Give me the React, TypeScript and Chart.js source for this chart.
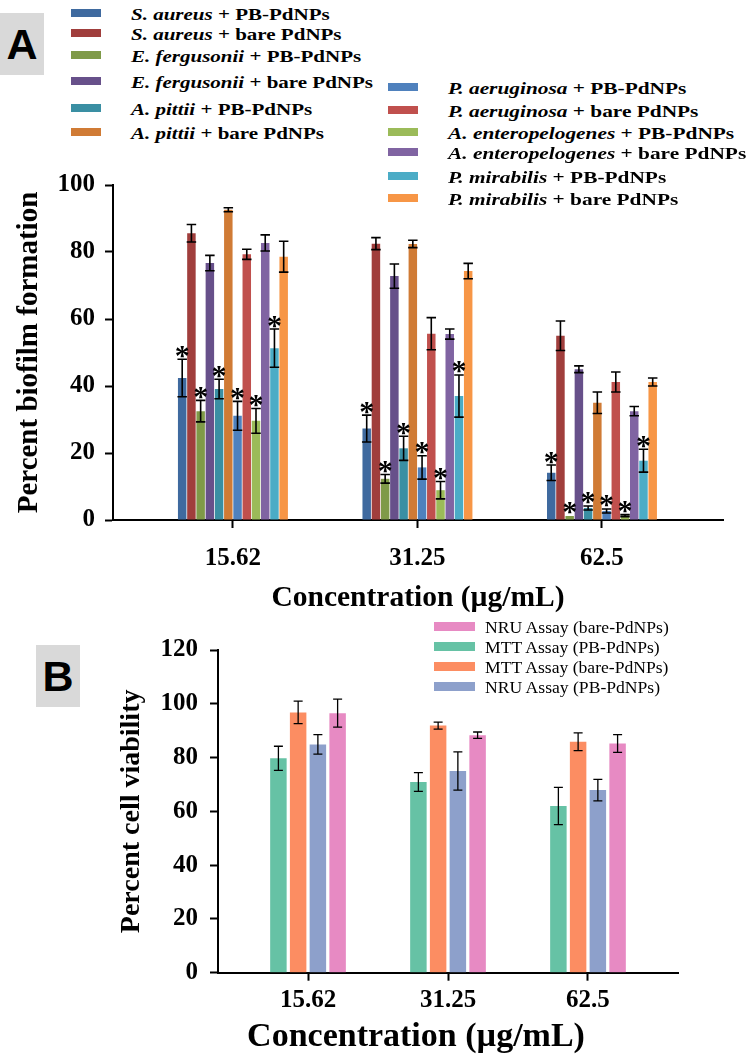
import React, { useEffect, useRef } from "react";
import { Chart, registerables } from "chart.js";

Chart.register(...registerables);

const SERIF = '"Liberation Serif", "Times New Roman", Times, serif';
const SANS = '"Liberation Sans", Arial, Helvetica, sans-serif';

// ---------- Panel A data ----------
const concentrations = ["15.62", "31.25", "62.5"];
const biofilmTicks = [0, 20, 40, 60, 80, 100];

const sAureusPB = [42.4, 27.3, 14.1];
const sAureusPBErr = [5.6, 4.0, 2.3];
const sAureusBare = [85.6, 82.5, 55.0];
const sAureusBareErr = [2.6, 1.8, 4.4];
const eFergusoniiPB = [32.5, 12.3, 1.2];
const eFergusoniiPBErr = [3.2, 1.3, 0];
const eFergusoniiBare = [76.7, 72.8, 45.0];
const eFergusoniiBareErr = [2.3, 3.6, 1.0];
const aPittiiPB = [39.1, 21.4, 3.6];
const aPittiiPBErr = [2.9, 3.6, 0.6];
const aPittiiBare = [92.6, 82.4, 35.0];
const aPittiiBareErr = [0.6, 1.1, 3.2];
const pAeruginosaPB = [31.1, 15.7, 2.7];
const pAeruginosaPBErr = [4.3, 3.5, 0.6];
const pAeruginosaBare = [79.3, 55.6, 41.2];
const pAeruginosaBareErr = [1.5, 4.8, 3.0];
const aEnteroPB = [29.6, 8.9, 1.3];
const aEnteroPBErr = [3.7, 2.6, 0.3];
const aEnteroBare = [82.7, 55.5, 32.5];
const aEnteroBareErr = [2.4, 1.5, 1.4];
const pMirabilisPB = [51.3, 37.0, 17.7];
const pMirabilisPBErr = [5.7, 6.3, 3.4];
const pMirabilisBare = [78.6, 74.3, 41.2];
const pMirabilisBareErr = [4.6, 2.3, 1.2];

const seriesA = [
  { species: "S. aureus", suffix: " + PB-PdNPs", values: sAureusPB, err: sAureusPBErr, color: "#3f6a9f", star: true },
  { species: "S. aureus", suffix: " + bare PdNPs", values: sAureusBare, err: sAureusBareErr, color: "#a03e3c", star: false },
  { species: "E. fergusonii", suffix: " + PB-PdNPs", values: eFergusoniiPB, err: eFergusoniiPBErr, color: "#7f9a48", star: true },
  { species: "E. fergusonii", suffix: " + bare PdNPs", values: eFergusoniiBare, err: eFergusoniiBareErr, color: "#67508a", star: false },
  { species: "A. pittii", suffix: " + PB-PdNPs", values: aPittiiPB, err: aPittiiPBErr, color: "#3a8fa3", star: true },
  { species: "A. pittii", suffix: " + bare PdNPs", values: aPittiiBare, err: aPittiiBareErr, color: "#d07b35", star: false },
  { species: "P. aeruginosa", suffix: " + PB-PdNPs", values: pAeruginosaPB, err: pAeruginosaPBErr, color: "#4f81bd", star: true },
  { species: "P. aeruginosa", suffix: " + bare PdNPs", values: pAeruginosaBare, err: pAeruginosaBareErr, color: "#c0504d", star: false },
  { species: "A. enteropelogenes", suffix: " + PB-PdNPs", values: aEnteroPB, err: aEnteroPBErr, color: "#9bbb59", star: true },
  { species: "A. enteropelogenes", suffix: " + bare PdNPs", values: aEnteroBare, err: aEnteroBareErr, color: "#8064a2", star: false },
  { species: "P. mirabilis", suffix: " + PB-PdNPs", values: pMirabilisPB, err: pMirabilisPBErr, color: "#4bacc6", star: true },
  { species: "P. mirabilis", suffix: " + bare PdNPs", values: pMirabilisBare, err: pMirabilisBareErr, color: "#f79646", star: false },
];

// ---------- Panel B data ----------
const viabilityTicks = [0, 20, 40, 60, 80, 100, 120];
const mttPB = [79.7, 70.9, 62.0];
const mttPBErr = [4.5, 3.5, 6.9];
const mttBare = [96.8, 91.9, 85.9];
const mttBareErr = [4.2, 1.3, 3.3];
const nruPB = [84.9, 75.0, 67.9];
const nruPBErr = [3.6, 7.1, 4.0];
const nruBare = [96.5, 88.3, 85.2];
const nruBareErr = [5.2, 1.2, 3.3];

const seriesB = [
  { label: "MTT Assay (PB-PdNPs)", values: mttPB, err: mttPBErr, color: "#66c2a5" },
  { label: "MTT Assay (bare-PdNPs)", values: mttBare, err: mttBareErr, color: "#fc8d62" },
  { label: "NRU Assay (PB-PdNPs)", values: nruPB, err: nruPBErr, color: "#8da0cb" },
  { label: "NRU Assay (bare-PdNPs)", values: nruBare, err: nruBareErr, color: "#e78ac3" },
];
const legendOrderB = [3, 0, 1, 2];

function errorBarPlugin(errors: number[][], stars: boolean[], lineWidth: number, capWidth: number | null) {
  return {
    id: "errorBars",
    afterDatasetsDraw(chart: any) {
      const ctx = chart.ctx;
      const yScale = chart.scales.y;
      ctx.save();
      chart.data.datasets.forEach((ds: any, di: number) => {
        const meta = chart.getDatasetMeta(di);
        meta.data.forEach((el: any, i: number) => {
          const v = ds.data[i].y;
          const e = errors[di][i];
          const { x, y, width } = el.getProps(["x", "y", "width"], true);
          const cw = capWidth == null ? width + 1 : capWidth;
          const yt = yScale.getPixelForValue(v + e);
          const yb = yScale.getPixelForValue(v - e);
          if (e > 0) {
            ctx.strokeStyle = "#000";
            ctx.lineWidth = lineWidth;
            ctx.beginPath();
            ctx.moveTo(x, yt);
            ctx.lineTo(x, yb);
            ctx.moveTo(x - cw / 2, yt);
            ctx.lineTo(x + cw / 2, yt);
            ctx.moveTo(x - cw / 2, yb);
            ctx.lineTo(x + cw / 2, yb);
            ctx.stroke();
          }
          if (stars[di]) {
            ctx.font = `bold 30px ${SERIF}`;
            ctx.fillStyle = "#000";
            ctx.textAlign = "center";
            ctx.textBaseline = "alphabetic";
            const m = ctx.measureText("*");
            const top = Math.min(yt, y);
            ctx.fillText("*", x, top - 1.5 - m.actualBoundingBoxDescent);
          }
        });
      });
      ctx.restore();
    },
  };
}

function makeConfig(opts: {
  series: { values: number[]; color: string }[];
  errors: number[][];
  stars: boolean[];
  yTicks: number[];
  yTitle: string;
  yTitleSize: number;
  yTitlePad: number;
  yWidth: number;
  xTitle: string | null;
  xTitlePad: number;
  xHeight: number;
  xMin: number;
  xMax: number;
  xTickPad: number;
  yTickPad: number;
  padding: { top: number; right: number; left: number; bottom: number };
  barPct: number;
  catPct: number;
  errLine: number;
  capWidth: number | null;
}) {
  const axisFont = { family: SERIF, size: 25, weight: "bold" as const };
  return {
    type: "bar" as const,
    data: {
      datasets: opts.series.map((s) => ({
        data: s.values.map((v, i) => ({ x: i, y: v })),
        backgroundColor: s.color,
        borderWidth: 0,
        barPercentage: opts.barPct,
        categoryPercentage: opts.catPct,
      })),
    },
    options: {
      responsive: false,
      maintainAspectRatio: false,
      animation: false,
      layout: { padding: opts.padding },
      plugins: { legend: { display: false }, tooltip: { enabled: false } },
      scales: {
        x: {
          type: "linear",
          offset: false,
          min: opts.xMin,
          max: opts.xMax,
          afterBuildTicks: (s: any) => {
            s.ticks = concentrations.map((_, i) => ({ value: i }));
          },
          afterFit: (s: any) => {
            s.height = opts.xHeight;
          },
          ticks: {
            callback: (v: any) => concentrations[Math.round(v)] ?? "",
            font: axisFont,
            color: "#000",
            padding: opts.xTickPad,
            maxRotation: 0,
            autoSkip: false,
          },
          grid: { display: true, offset: false, drawOnChartArea: false, drawTicks: true, tickLength: 8, tickColor: "#000", tickWidth: 2 },
          border: { display: true, color: "#000", width: 2 },
          title: opts.xTitle
            ? {
                display: true,
                text: opts.xTitle,
                color: "#000",
                font: { family: SERIF, size: 29.5, weight: "bold" as const },
                padding: { top: 0, bottom: opts.xTitlePad },
              }
            : { display: false },
        },
        y: {
          min: opts.yTicks[0],
          max: opts.yTicks[opts.yTicks.length - 1],
          afterBuildTicks: (s: any) => {
            s.ticks = opts.yTicks.map((v) => ({ value: v }));
          },
          afterFit: (s: any) => {
            s.width = opts.yWidth;
          },
          ticks: { font: axisFont, color: "#000", padding: opts.yTickPad },
          grid: { display: true, drawOnChartArea: false, drawTicks: true, tickLength: 8, tickColor: "#000", tickWidth: 2 },
          border: { display: true, color: "#000", width: 2 },
          title: {
            display: true,
            text: opts.yTitle,
            color: "#000",
            font: { family: SERIF, size: opts.yTitleSize, weight: "bold" as const },
            padding: { top: opts.yTitlePad, bottom: 0 },
          },
        },
      },
    },
    plugins: [errorBarPlugin(opts.errors, opts.stars, opts.errLine, opts.capWidth)],
  };
}

function PanelLabel({ x, y, letter }: { x: number; y: number; letter: string }) {
  return (
    <div
      style={{
        position: "absolute",
        left: x,
        top: y,
        width: 44,
        height: 62,
        background: "#d9d9d9",
        fontFamily: SANS,
        fontWeight: "bold",
        fontSize: 43,
        lineHeight: "62px",
        textAlign: "center",
        color: "#000",
      }}
    >
      {letter}
    </div>
  );
}

function LegendRow({
  sx, tx, y, sw, sh, color, size, bold, scale, children,
}: {
  sx: number; tx: number; y: number; sw: number; sh: number; color: string;
  size: number; bold: boolean; scale: number; children: React.ReactNode;
}) {
  return (
    <>
      <div style={{ position: "absolute", left: sx, top: y - sh / 2, width: sw, height: sh, background: color }} />
      <div
        style={{
          position: "absolute",
          left: tx,
          top: y + 1.5 - size * 0.6,
          height: size * 1.2,
          lineHeight: `${size * 1.2}px`,
          fontSize: size,
          fontFamily: SERIF,
          fontWeight: bold ? "bold" : "normal",
          whiteSpace: "nowrap",
          transform: `scaleX(${scale})`,
          transformOrigin: "left center",
          color: "#000",
        }}
      >
        {children}
      </div>
    </>
  );
}

const legendARowsLeft = [13.3, 33.3, 55, 81, 107.7, 131.7];
const legendARowsRight = [86.7, 110, 131.7, 151.7, 176, 198.3];
const legendBRows = [626.5, 646.5, 666.5, 686.5];

export default function App() {
  const refA = useRef<HTMLCanvasElement>(null);
  const refB = useRef<HTMLCanvasElement>(null);

  useEffect(() => {
    const cfgA: any = makeConfig({
      series: seriesA,
      errors: seriesA.map((s) => s.err),
      stars: seriesA.map((s) => s.star),
      yTicks: biofilmTicks,
      yTitle: "Percent biofilm formation",
      yTitleSize: 29,
      yTitlePad: 12.6,
      yWidth: 113,
      xTitle: "Concentration (\u00b5g/mL)",
      xTitlePad: 3.6,
      xHeight: 100,
      xMin: -0.65,
      xMax: 2.656,
      xTickPad: 16,
      yTickPad: 10,
      padding: { top: 22, right: 26, left: 0, bottom: 0 },
      barPct: 0.92,
      catPct: 0.6,
      errLine: 1.6,
      capWidth: null,
    });
    const cfgB: any = makeConfig({
      series: seriesB,
      errors: seriesB.map((s) => s.err),
      stars: seriesB.map(() => false),
      yTicks: viabilityTicks,
      yTitle: "Percent cell viability",
      yTitleSize: 28,
      yTitlePad: 114.7,
      yWidth: 218,
      xTitle: null,
      xTitlePad: 0,
      xHeight: 83.3,
      xMin: -0.643,
      xMax: 2.643,
      xTickPad: 4.5,
      yTickPad: 12,
      padding: { top: 30, right: 71, left: 0, bottom: 0 },
      barPct: 0.835,
      catPct: 0.564,
      errLine: 1.3,
      capWidth: 9,
    });
    const a = new Chart(refA.current as HTMLCanvasElement, cfgA);
    const b = new Chart(refB.current as HTMLCanvasElement, cfgB);
    return () => {
      a.destroy();
      b.destroy();
    };
  }, []);

  return (
    <div style={{ position: "absolute", left: 0, top: 0, width: 749, height: 1056, background: "#fff", overflow: "hidden" }}>
      <canvas ref={refA} width={749} height={460} style={{ position: "absolute", left: 0, top: 160, width: 749, height: 460 }} />
      <canvas ref={refB} width={749} height={436} style={{ position: "absolute", left: 0, top: 620, width: 749, height: 436 }} />

      <PanelLabel x={0} y={13} letter="A" />
      <PanelLabel x={36} y={645} letter="B" />

      {seriesA.slice(0, 6).map((s, k) => (
        <LegendRow key={"l" + k} sx={71} tx={131} y={legendARowsLeft[k]} sw={30} sh={8} color={s.color} size={17.5} bold scale={1.2}>
          <i>{s.species}</i>
          {s.suffix}
        </LegendRow>
      ))}
      {seriesA.slice(6).map((s, k) => (
        <LegendRow key={"r" + k} sx={388} tx={448} y={legendARowsRight[k]} sw={30} sh={8} color={s.color} size={17.5} bold scale={1.22}>
          <i>{s.species}</i>
          {s.suffix}
        </LegendRow>
      ))}
      {legendOrderB.map((idx, k) => (
        <LegendRow key={"b" + k} sx={434} tx={485} y={legendBRows[k]} sw={41} sh={9} color={seriesB[idx].color} size={16} bold={false} scale={1.1}>
          {seriesB[idx].label}
        </LegendRow>
      ))}

      <div
        style={{
          position: "absolute",
          left: 416 - 250,
          width: 500,
          top: 1035 - 34 * 0.6,
          height: 34 * 1.2,
          lineHeight: `${34 * 1.2}px`,
          textAlign: "center",
          fontFamily: SERIF,
          fontWeight: "bold",
          fontSize: 34,
          color: "#000",
          whiteSpace: "nowrap",
        }}
      >
        Concentration (µg/mL)
      </div>
    </div>
  );
}
